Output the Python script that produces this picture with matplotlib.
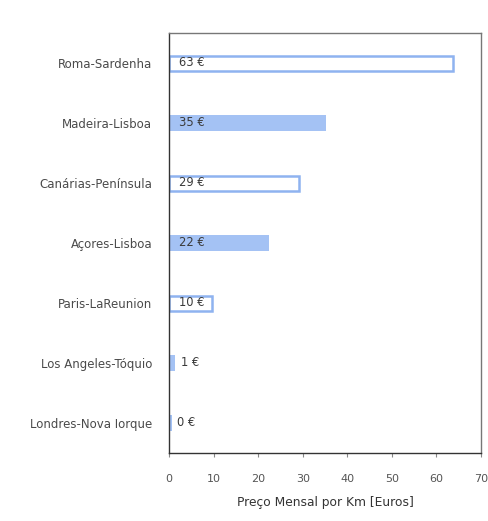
import matplotlib.pyplot as plt
import numpy as np

plt.rcParams['font.family'] = ['DejaVu Sans']

# dados (de cima para baixo)
rotas = ['Roma-Sardenha', 'Madeira-Lisboa', 'Canárias-Península', 'Açores-Lisboa',
         'Paris-LaReunion', 'Los Angeles-Tóquio', 'Londres-Nova Iorque']
precos = [63.8, 35.3, 29.1, 22.4, 9.6, 1.3, 0.6]
rotulos = ['63 €', '35 €', '29 €', '22 €', '10 €', '1 €', '0 €']
preenchido = [False, True, False, True, False, True, True]

azul = '#a4c2f4'
borda = '#8fb3f0'

fig = plt.figure(figsize=(4.88, 5.21), dpi=100)
ax = fig.add_axes([169 / 488, 1 - 453 / 521, 312 / 488, 420 / 521])

y = np.arange(len(rotas))[::-1]
for yi, v, cheio in zip(y, precos, preenchido):
    if cheio:
        ax.barh(yi, v, height=0.27, color=azul, edgecolor=azul, linewidth=0)
    else:
        ax.barh(yi, v, height=0.25, color='white', edgecolor=borda, linewidth=1.8)

# rótulos dentro/fora das barras
for yi, v, txt in zip(y, precos, rotulos):
    xpos = 2.3 if v > 5 else v + 1.3
    ax.text(xpos, yi, txt, va='center', ha='left', fontsize=8.3, color='#3a3a3a')

ax.set_yticks(y)
ax.set_yticklabels(rotas, fontsize=8.5, color='#4a4a4a')
ax.tick_params(axis='y', length=0, pad=12)
ax.set_xlim(0, 70)
ax.set_ylim(-0.5, 6.5)
ax.set_xticks(np.arange(0, 71, 10))
ax.tick_params(axis='x', labelsize=8, labelcolor='#555555', length=3, color='#888888', pad=12)
ax.set_xlabel('Preço Mensal por Km [Euros]', fontsize=8.8, color='#333333', labelpad=9)

for s in ['top', 'right']:
    ax.spines[s].set_color('#777777')
    ax.spines[s].set_linewidth(1.0)
for s in ['left', 'bottom']:
    ax.spines[s].set_color('#333333')
    ax.spines[s].set_linewidth(1.0)

plt.savefig('out.png', dpi=100)
